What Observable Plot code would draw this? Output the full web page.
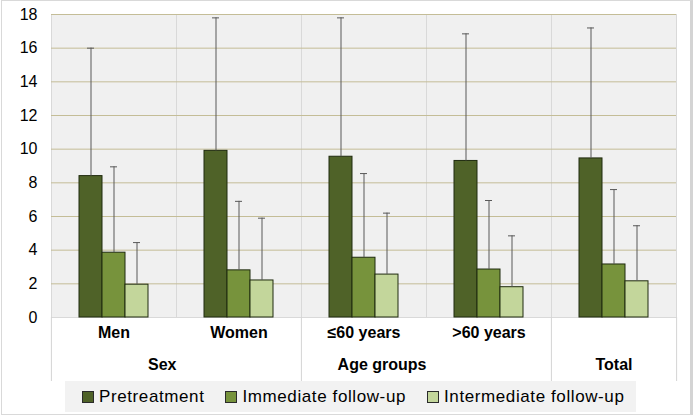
<!DOCTYPE html>
<html>
<head>
<meta charset="utf-8">
<script src="https://cdn.jsdelivr.net/npm/d3@7"></script>
<script src="https://cdn.jsdelivr.net/npm/@observablehq/plot@0.6"></script>
<style>
  html, body { margin: 0; padding: 0; background: #fff; }
  #wrap { position: relative; width: 694px; height: 416px; overflow: hidden; font-family: "Liberation Sans", Arial, sans-serif; }
  #wrap svg { position: absolute; left: 0; top: 0; }
  #border { position: absolute; left: 1px; top: 0; width: 688px; height: 413px; border: 1px solid #d9d9d9; border-right: 3px solid #d4d4d4; pointer-events: none; }
  #legend { position: absolute; left: 65px; top: 381px; width: 571px; height: 31px; background: #f2f2f2; display: flex; align-items: center; font-size: 17px; letter-spacing: 0.6px; color: #000; }
  .item { display: flex; align-items: center; margin-left: 17px; }
  .item + .item { margin-left: 21px; }
  .sw { width: 10px; height: 10px; border: 1px solid #2b2b2b; margin-right: 5px; }
</style>
</head>
<body>
<div id="wrap"><div id="legend"></div><div id="border"></div></div>
<script>
const categories = ["Men", "Women", "≤60 years", ">60 years", "Total"];
const series = ["Pretreatment", "Immediate follow-up", "Intermediate follow-up"];
const colors = ["#4f6228", "#77933c", "#c3d69b"];
const pretreatment = [8.4, 9.9, 9.55, 9.3, 9.45];
const immediate = [3.85, 2.8, 3.55, 2.85, 3.15];
const intermediate = [1.95, 2.2, 2.55, 1.8, 2.15];
const pretreatmentUpper = [16.0, 17.8, 17.8, 16.85, 17.2];
const immediateUpper = [8.95, 6.9, 8.55, 6.95, 7.6];
const intermediateUpper = [4.45, 5.9, 6.2, 4.85, 5.45];
const groupLabels = ["Sex", "Age groups", "Total"];
const groupAnchors = ["Men", "≤60 years", "Total"]; // facet that carries each group label
const groupEdges = ["Men", "≤60 years", "Total"];    // categories that start a group
const yTicks = [0, 2, 4, 6, 8, 10, 12, 14, 16, 18];

const means = [pretreatment, immediate, intermediate];
const uppers = [pretreatmentUpper, immediateUpper, intermediateUpper];
const data = [];
categories.forEach((c, i) => series.forEach((s, j) => data.push({category: c, series: s, value: means[j][i], upper: uppers[j][i]})));

const W = 694, H = 381, ML = 50, MR = 18, MT = 14, MB = 64;
const facetHalf = (W - ML - MR) / categories.length / 2;
const groups = groupLabels.map((g, i) => ({label: g, at: groupAnchors[i]}));

const chart = Plot.plot({
  width: W, height: H,
  marginLeft: ML, marginRight: MR, marginTop: MT, marginBottom: MB,
  style: {fontFamily: "'Liberation Sans', Arial, sans-serif", fontSize: "16px", color: "#000", background: "transparent", overflow: "visible"},
  fx: {domain: categories, padding: 0, axis: null},
  x: {domain: series, paddingInner: 0, paddingOuter: 1.11, axis: null},
  y: {domain: [0, 18], ticks: yTicks, tickSize: 0, tickPadding: 14, label: null},
  color: {domain: series, range: colors},
  marks: [
    Plot.frame({fill: "#f0f0f0", stroke: "#d9d9d9"}),
    Plot.ruleY(yTicks.filter(t => t > 0), {stroke: "#c4bd97", strokeWidth: 1}),
    Plot.ruleX(groupEdges, {fx: d => d, x: null, y1: 0, insetBottom: -MB, dx: -facetHalf, stroke: "#d4d4d4"}),
    Plot.ruleX(["Total"], {fx: d => d, x: null, y1: 0, insetBottom: -MB, dx: facetHalf, stroke: "#d4d4d4"}),
    Plot.barY(data, {fx: "category", x: "series", y: "value", fill: "series", stroke: "#1f2a0e", strokeWidth: 1}),
    Plot.ruleX(data, {fx: "category", x: "series", y1: "value", y2: "upper", stroke: "#595959", strokeWidth: 1}),
    Plot.tickY(data, {fx: "category", x: "series", y: "upper", inset: 8, stroke: "#595959", strokeWidth: 1}),
    Plot.text(categories.filter(c => !groupLabels.includes(c)), {fx: d => d, text: d => d, frameAnchor: "bottom", dy: 20, fontWeight: "bold", fontSize: 16, fill: "#000"}),
    Plot.text(groups.filter(g => g.label !== "Total"), {fx: "at", text: "label", frameAnchor: "bottom-right", dy: 52, fontWeight: "bold", fontSize: 16, fill: "#000"}),
    Plot.text(groups.filter(g => g.label === "Total"), {fx: "at", text: "label", frameAnchor: "bottom", dy: 52, fontWeight: "bold", fontSize: 16, fill: "#000"})
  ]
});
const wrap = document.getElementById("wrap");
wrap.insertBefore(chart, wrap.firstChild);

const legend = document.getElementById("legend");
series.forEach((s, i) => {
  const it = document.createElement("div");
  it.className = "item";
  const sw = document.createElement("span");
  sw.className = "sw";
  sw.style.background = colors[i];
  const t = document.createElement("span");
  t.textContent = s;
  it.appendChild(sw); it.appendChild(t);
  legend.appendChild(it);
});
</script>
</body>
</html>
